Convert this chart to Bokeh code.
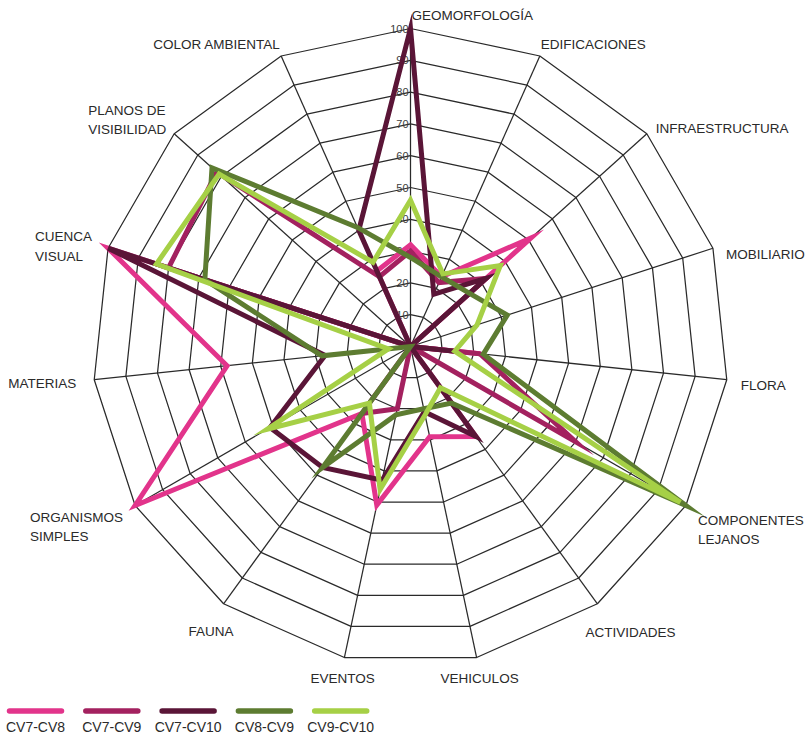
import numpy as np
from bokeh.plotting import figure
from bokeh.models import Range1d
from bokeh.core.properties import value
from bokeh.embed import file_html
from bokeh.resources import INLINE

# ---------------- data ----------------
categories = ["GEOMORFOLOGÍA", "EDIFICACIONES", "INFRAESTRUCTURA", "MOBILIARIO", "FLORA",
              "COMPONENTES\nLEJANOS", "ACTIVIDADES", "VEHICULOS", "EVENTOS", "FAUNA",
              "ORGANISMOS\nSIMPLES", "MATERIAS", "CUENCA\nVISUAL", "PLANOS DE\nVISIBILIDAD",
              "COLOR AMBIENTAL"]
series_names = ["CV7-CV8", "CV7-CV9", "CV7-CV10", "CV8-CV9", "CV9-CV10"]
cv7_cv8 = [32, 24, 51, 0, 22, 0, 35, 29, 51, 26, 100, 58, 100, 0, 26]
cv7_cv9 = [30, 22, 32, 0, 22, 60, 0, 0, 20, 26, 0, 0, 80, 82, 24]
cv7_cv10 = [100, 18, 32, 0, 14, 0, 35, 21, 43, 47, 51, 27, 100, 0, 40]
cv8_cv9 = [28, 24, 25, 32, 23, 100, 22, 20, 22, 47, 0, 28, 68, 84, 41]
cv9_cv10 = [46, 25, 38, 22, 14, 98, 16, 22, 46, 22, 52, 7, 84, 81, 29]
tick_values = [10, 20, 30, 40, 50, 60, 70, 80, 90, 100]
tick_labels = ["10", "20", "30", "40", "50", "60", "70", "80", "90", "100"]

series_values = [cv7_cv8, cv7_cv9, cv7_cv10, cv8_cv9, cv9_cv10]

# ---------------- style / layout ----------------
colors = ["#e2348b", "#a3215f", "#5a1537", "#5d7c31", "#a6d046"]
W, H = 807, 737
PX = 3.18            # pixels per value unit
CX, CY = 410, 346    # centre of the web in figure pixels
FONT = "Liberation Sans"
# label offsets (pixels, from the outer vertex) -> left/top of text block
label_dx = [1, 1, 9, 13, 14, 12, -12, -36, -34, -35, -105, -86, -73, -86, -128]
label_dy = [-21, -18.5, -13, -1, -2, 7, 21, 13, 13, 20, 4, -4, -19, -31, -18.5]

n = len(categories)
ang = np.deg2rad(90 - 360.0 / n * np.arange(n))
cosa, sina = np.cos(ang), np.sin(ang)

p = figure(width=W, height=H, output_backend="svg", toolbar_location=None,
           x_range=Range1d(-CX / PX, (W - CX) / PX),
           y_range=Range1d(-(H - CY) / PX, CY / PX),
           min_border=0, match_aspect=False)
p.axis.visible = False
p.grid.visible = False
p.outline_line_color = None
p.background_fill_color = "white"
p.border_fill_color = "white"

# grid rings
ring_xs = [list(r * cosa) for r in tick_values]
ring_ys = [list(r * sina) for r in tick_values]
p.patches(ring_xs, ring_ys, fill_color=None, line_color="#2a2a2a", line_width=1.25)
# spokes
p.segment(x0=[0] * n, y0=[0] * n, x1=list(100 * cosa), y1=list(100 * sina),
          line_color="#2a2a2a", line_width=1.25)

# tick labels on the vertical axis
p.text(x=[0] * len(tick_values), y=tick_values, text=tick_labels,
       text_font=value(FONT), text_font_size="11px", text_color="#3c3c3c",
       text_align="right", text_baseline="middle", x_offset=-2)

# series
for vals, col in zip(series_values, colors):
    v = np.array(vals, dtype=float)
    p.patch(list(v * cosa), list(v * sina), fill_color=None, line_color=col,
            line_width=5, line_join="miter")

# category labels
p.text(x=list(100 * cosa), y=list(100 * sina), text=categories,
       x_offset=label_dx, y_offset=label_dy,
       text_font=value(FONT), text_font_size="13.5px", text_color="#2a2a2a",
       text_align="left", text_baseline="top", text_line_height=1.3)

# legend strip below the web
def to_x(px):
    return (px - CX) / PX

def to_y(py):
    return (CY - py) / PX

leg_x0 = [to_x(9 + 76.3 * i) for i in range(len(series_names))]
leg_x1 = [to_x(61 + 76.3 * i) for i in range(len(series_names))]
p.segment(x0=leg_x0, y0=[to_y(710.5)] * 5, x1=leg_x1, y1=[to_y(710.5)] * 5,
          line_color=colors, line_width=5.5, line_cap="round")
p.text(x=[(a + b) / 2 for a, b in zip(leg_x0, leg_x1)], y=[to_y(726)] * 5,
       text=series_names, text_font=value(FONT),
       text_font_size="14px", text_color="#2a2a2a",
       text_align="center", text_baseline="middle")

open("out.html", "w").write(file_html(p, INLINE))
